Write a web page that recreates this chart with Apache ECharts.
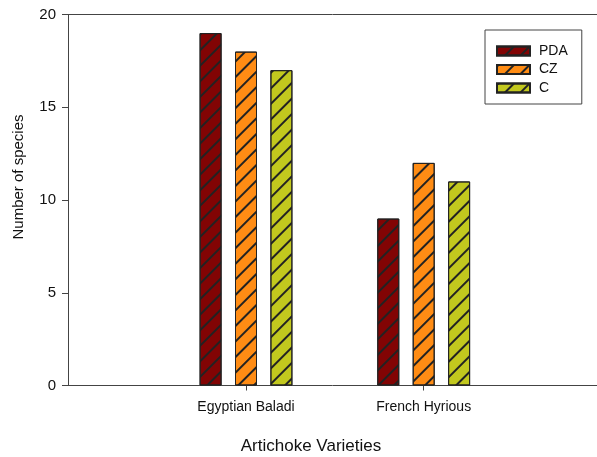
<!DOCTYPE html>
<html>
<head>
<meta charset="utf-8">
<script src="https://cdn.jsdelivr.net/npm/echarts@6/dist/echarts.min.js"></script>
<style>html,body{margin:0;padding:0;background:#fff;}#c{width:597px;height:457px;}</style>
</head>
<body>
<div id="c"></div>
<script>
const categories = ['Egyptian Baladi', 'French Hyrious'];
const seriesNames = ['PDA', 'CZ', 'C'];
const pdaValues = [19, 9];
const czValues = [18, 12];
const cValues = [17, 11];
const seriesColors = ['#820404', '#FF8C14', '#C2C81E'];
const yMin = 0, yMax = 20, yInterval = 5;
const xAxisTitle = 'Artichoke Varieties';
const yAxisTitle = 'Number of species';

const FONT = '"Liberation Sans", Arial, sans-serif';
const decal = {
  symbol: 'rect', symbolSize: 1,
  dashArrayX: [1, 0], dashArrayY: [1.3, 8.7],
  rotation: -Math.PI / 4, color: '#222'
};
const values = [pdaValues, czValues, cValues];

const chart = echarts.init(document.getElementById('c'), null, {renderer: 'canvas'});
chart.setOption({
  animation: false,
  backgroundColor: '#fff',
  textStyle: {fontFamily: FONT},
  grid: [
    {left: 68, top: 14.5, width: 600, height: 371},
    {left: 157.15, top: 14.5, width: 355.4, height: 371}
  ],
  xAxis: [
    {gridIndex: 0, type: 'value', min: 0, max: 1, position: 'bottom',
     axisLine: {show: true, lineStyle: {color: '#444', width: 1}},
     axisTick: {show: false}, axisLabel: {show: false}, splitLine: {show: false}},
    {gridIndex: 0, type: 'value', min: 0, max: 1, position: 'top',
     axisLine: {show: true, lineStyle: {color: '#444', width: 1}},
     axisTick: {show: false}, axisLabel: {show: false}, splitLine: {show: false}},
    {gridIndex: 1, type: 'category', data: categories, position: 'bottom',
     axisLine: {show: false},
     axisTick: {show: true, alignWithLabel: true, length: 5, lineStyle: {color: '#444'}},
     axisLabel: {margin: 15, fontSize: 14, color: '#111', fontFamily: FONT},
     splitLine: {show: false}}
  ],
  yAxis: [
    {gridIndex: 0, type: 'value', min: yMin, max: yMax, interval: yInterval,
     axisLine: {show: true, lineStyle: {color: '#444', width: 1}},
     axisTick: {show: true, length: 6, lineStyle: {color: '#444'}},
     axisLabel: {margin: 12, fontSize: 15, color: '#111', fontFamily: FONT},
     splitLine: {show: false}},
    {gridIndex: 1, type: 'value', min: yMin, max: yMax, interval: yInterval, show: false}
  ],
  legend: {
    orient: 'vertical', left: 485, top: 30,
    padding: [14, 14, 9, 11], itemGap: 4.5,
    itemWidth: 33, itemHeight: 9, icon: 'rect',
    borderColor: '#444', borderWidth: 1,
    textStyle: {fontSize: 14, lineHeight: 14, color: '#111', fontFamily: FONT, padding: [0, 0, 0, 4]},
    data: seriesNames
  },
  series: seriesNames.map((name, i) => ({
    name: name, type: 'bar', xAxisIndex: 2, yAxisIndex: 1,
    data: values[i], barWidth: 22, barGap: '61%',
    itemStyle: {color: seriesColors[i], borderColor: '#222', borderWidth: 1, decal: decal}
  })),
  graphic: [
    {type: 'text', x: 19, y: 177, rotation: Math.PI / 2,
     style: {text: yAxisTitle, fontSize: 15, fontFamily: FONT, fill: '#111', align: 'center', verticalAlign: 'middle'}},
    {type: 'text', x: 311, y: 446,
     style: {text: xAxisTitle, fontSize: 17, fontFamily: FONT, fill: '#111', align: 'center', verticalAlign: 'middle'}}
  ]
});
</script>
</body>
</html>
